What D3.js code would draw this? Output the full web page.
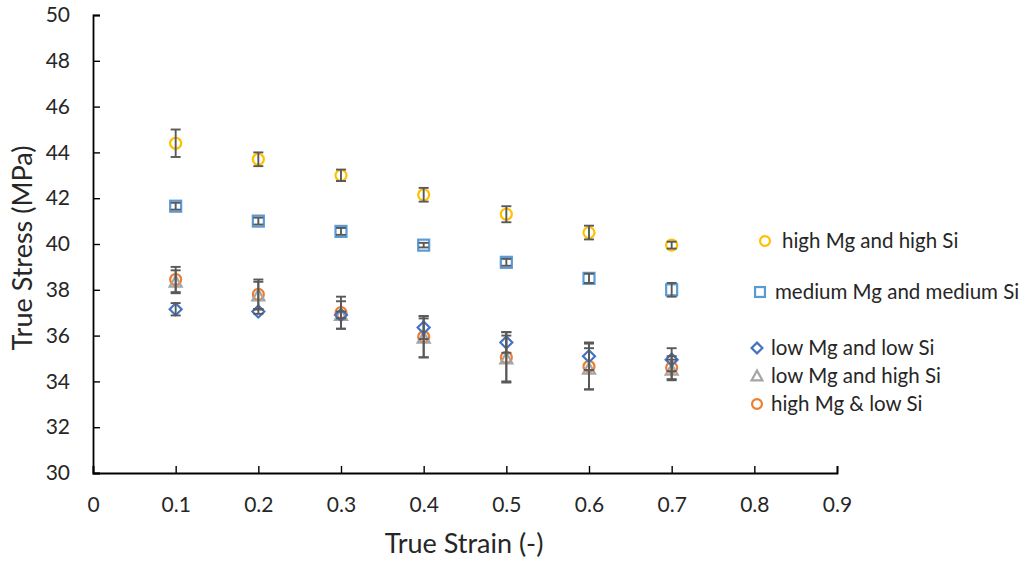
<!DOCTYPE html>
<html>
<head>
<meta charset="utf-8">
<script src="https://cdn.jsdelivr.net/npm/d3@7"></script>
<style>
  html, body { margin: 0; padding: 0; background: #fff; }
  svg { display: block; font-family: Lato, "Open Sans", sans-serif; }
</style>
</head>
<body>
<svg id="chart" width="1036" height="563"></svg>
<script>
// True strain levels
const strain = [0.1, 0.2, 0.3, 0.4, 0.5, 0.6, 0.7];

// Mean true stress (MPa) and standard deviation for each alloy
const highMgHighSi      = [44.4, 43.7, 43.0, 42.15, 41.3, 40.5, 39.95];
const highMgHighSiErr   = [0.6, 0.3, 0.25, 0.3, 0.35, 0.3, 0.15];
const medMgMedSi        = [41.65, 41.0, 40.55, 39.95, 39.2, 38.5, 38.0];
const medMgMedSiErr     = [0.15, 0.15, 0.15, 0.1, 0.15, 0.2, 0.3];
const lowMgLowSi        = [37.15, 37.05, 36.9, 36.35, 35.7, 35.1, 34.95];
const lowMgLowSiErr     = [0.27, 0.1, 0.15, 0.5, 0.45, 0.6, 0.5];
const lowMgHighSi       = [38.35, 37.75, 36.9, 35.9, 35.0, 34.55, 34.5];
const lowMgHighSiErr    = [0.5, 0.6, 0.6, 0.85, 1.0, 0.9, 0.45];
const highMgLowSi       = [38.45, 37.8, 37.0, 35.95, 35.05, 34.65, 34.6];
const highMgLowSiErr    = [0.55, 0.65, 0.7, 0.9, 1.1, 1.0, 0.5];

const seriesNames = ["high Mg and high Si", "medium Mg and medium Si", "low Mg and low Si",
                     "low Mg and high Si", "high Mg & low Si"];

const xTicks = [0, 0.1, 0.2, 0.3, 0.4, 0.5, 0.6, 0.7, 0.8, 0.9];
const yTicks = [30, 32, 34, 36, 38, 40, 42, 44, 46, 48, 50];

const series = [
  { name: seriesNames[0], y: highMgHighSi, err: highMgHighSiErr, shape: "circle",  color: "#FFC000" },
  { name: seriesNames[1], y: medMgMedSi,   err: medMgMedSiErr,   shape: "square",  color: "#5B9BD5" },
  { name: seriesNames[2], y: lowMgLowSi,   err: lowMgLowSiErr,   shape: "diamond", color: "#4472C4" },
  { name: seriesNames[3], y: lowMgHighSi,  err: lowMgHighSiErr,  shape: "triangle",color: "#A5A5A5" },
  { name: seriesNames[4], y: highMgLowSi,  err: highMgLowSiErr,  shape: "circle",  color: "#ED7D31" }
];

const svg = d3.select("#chart");
const plot = { left: 93, right: 837, top: 15, bottom: 473 };
const textColor = "#262626";

const x = d3.scaleLinear().domain([0, 0.9]).range([plot.left, plot.right]);
const y = d3.scaleLinear().domain([30, 50]).range([plot.bottom, plot.top]);

// Axes with inward ticks
const xAxis = d3.axisBottom(x).tickValues(xTicks).tickSize(-7).tickPadding(24)
  .tickFormat(d => d === 0 ? "0" : d3.format(".1f")(d));
const yAxis = d3.axisLeft(y).tickValues(yTicks).tickSize(-7).tickPadding(23);

const gx = svg.append("g").attr("transform", `translate(0,${plot.bottom})`).call(xAxis);
const gy = svg.append("g").attr("transform", `translate(${plot.left},0)`).call(yAxis);
[gx, gy].forEach(g => {
  g.select(".domain").attr("stroke", "#000").attr("stroke-width", 1.8);
  g.selectAll(".tick line").attr("stroke", "#000").attr("stroke-width", 1.4);
  g.selectAll(".tick text").attr("fill", textColor).style("font-size", "21px")
    .style("font-family", "Lato, 'Open Sans', sans-serif");
});

// Axis titles
svg.append("text").attr("x", 464).attr("y", 553)
  .attr("text-anchor", "middle").style("font-size", "27px").attr("fill", textColor)
  .text("True Strain (-)");
svg.append("text").attr("transform", `translate(32,248) rotate(-90)`)
  .attr("text-anchor", "middle").style("font-size", "27px").attr("fill", textColor)
  .text("True Stress (MPa)");

// Marker shapes
function drawMarker(g, shape, color, size) {
  const s = size || 1;
  if (shape === "circle") {
    g.append("circle").attr("r", 5.5 * s).attr("fill", "none").attr("stroke", color).attr("stroke-width", 2.2);
  } else if (shape === "square") {
    g.append("rect").attr("x", -5.5 * s).attr("y", -5.5 * s).attr("width", 11 * s).attr("height", 11 * s)
      .attr("fill", "none").attr("stroke", color).attr("stroke-width", 2.2);
  } else if (shape === "diamond") {
    const r = 6 * s;
    g.append("path").attr("d", `M0,${-r}L${r},0L0,${r}L${-r},0Z`)
      .attr("fill", "none").attr("stroke", color).attr("stroke-width", 2.2);
  } else if (shape === "triangle") {
    const r = 6 * s;
    g.append("path").attr("d", `M0,${-r}L${r},${r * 0.8}L${-r},${r * 0.8}Z`)
      .attr("fill", "none").attr("stroke", color).attr("stroke-width", 2.2);
  }
}

// Markers, drawn last series first so the upper series sit on top
const drawOrder = [4, 3, 2, 1, 0];
drawOrder.forEach(i => {
  const s = series[i];
  strain.forEach((sx, j) => {
    const g = svg.append("g").attr("transform", `translate(${x(sx)},${y(s.y[j])})`);
    drawMarker(g, s.shape, s.color);
  });
});

// Error bars
const cap = 5;
series.forEach(s => {
  strain.forEach((sx, j) => {
    const cx = x(sx), y0 = y(s.y[j] - s.err[j]), y1 = y(s.y[j] + s.err[j]);
    const g = svg.append("g").attr("stroke", "#595959").attr("stroke-width", 1.9);
    g.append("line").attr("x1", cx).attr("x2", cx).attr("y1", y0).attr("y2", y1);
    g.append("line").attr("x1", cx - cap).attr("x2", cx + cap).attr("y1", y0).attr("y2", y0);
    g.append("line").attr("x1", cx - cap).attr("x2", cx + cap).attr("y1", y1).attr("y2", y1);
  });
});

// Legend
const legendRows = [
  { mx: 765, tx: 782, y: 241 },
  { mx: 760, tx: 775, y: 292 },
  { mx: 757, tx: 771, y: 348 },
  { mx: 757, tx: 771, y: 376 },
  { mx: 757, tx: 771, y: 404 }
];
series.forEach((s, i) => {
  const r = legendRows[i];
  const g = svg.append("g").attr("transform", `translate(${r.mx},${r.y})`);
  drawMarker(g, s.shape, s.color, 0.9);
  svg.append("text").attr("x", r.tx).attr("y", r.y).attr("dy", "0.35em")
    .style("font-size", "20.5px").attr("fill", textColor).text(s.name);
});
</script>
</body>
</html>
